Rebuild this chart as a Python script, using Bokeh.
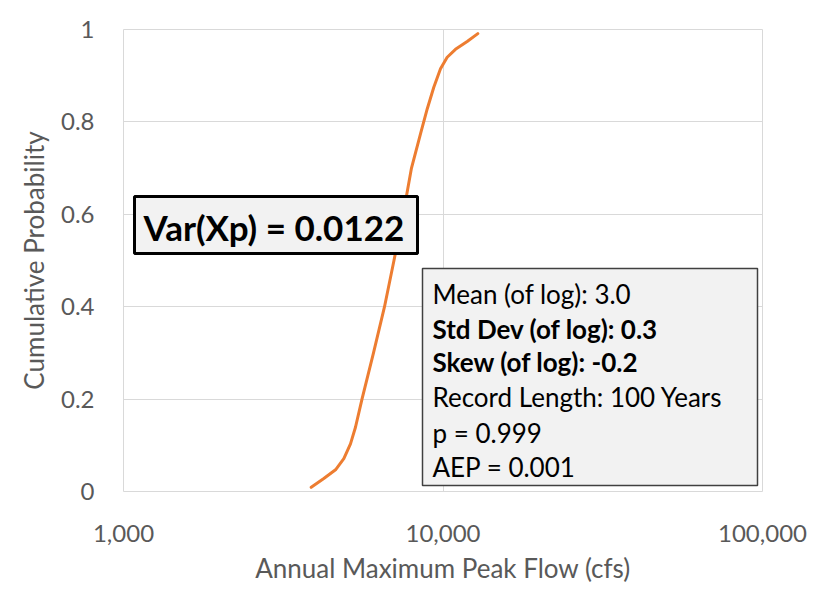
from bokeh.plotting import figure
from bokeh.models import FixedTicker, NumeralTickFormatter, BoxAnnotation, Label
from bokeh.embed import file_html
from bokeh.resources import INLINE

# ---- data ----
flow_cfs = [3868, 4236, 4609, 4893, 5134, 5322, 5578, 6060, 6561, 7023, 7506, 7968, 8503, 8924,
            9358, 9822, 10306, 10941, 11902, 12853]
cum_prob = [0.009, 0.028, 0.047, 0.071, 0.103, 0.139, 0.2, 0.3, 0.4, 0.5, 0.6, 0.7, 0.774, 0.828,
            0.875, 0.915, 0.94, 0.957, 0.974, 0.991]

x_ticks = [1000, 10000, 100000]
y_ticks = [0, 0.2, 0.4, 0.6, 0.8, 1.0]
y_tick_labels = ["0", "0.2", "0.4", "0.6", "0.8", "1"]

var_text = "Var(Xp) = 0.0122"
info_lines = ["Mean (of log): 3.0", "Std Dev (of log): 0.3", "Skew (of log): -0.2",
              "Record Length: 100 Years", "p = 0.999", "AEP = 0.001"]
info_bold = [False, True, True, False, False, False]

FONT = "Lato"
GREY = "#595959"

p = figure(width=812, height=590, x_axis_type="log", x_range=(1000, 100000), y_range=(0, 1),
           output_backend="svg", toolbar_location=None,
           min_border_left=123, min_border_right=50, min_border_top=29, min_border_bottom=99)

p.outline_line_color = "#D9D9D9"
p.outline_line_width = 1
p.background_fill_color = "white"
p.border_fill_color = "white"

# axes
p.xaxis.ticker = FixedTicker(ticks=x_ticks)
p.xaxis.formatter = NumeralTickFormatter(format="0,0")
p.yaxis.ticker = FixedTicker(ticks=y_ticks)
p.yaxis.major_label_overrides = {t: l for t, l in zip(y_ticks, y_tick_labels)}
for ax in (p.xaxis[0], p.yaxis[0]):
    ax.axis_line_color = None
    ax.major_tick_line_color = None
    ax.minor_tick_line_color = None
    ax.major_label_text_font = FONT
    ax.major_label_text_font_size = "24px"
    ax.major_label_text_color = GREY
    ax.axis_label_text_font = FONT
    ax.axis_label_text_font_size = "26px"
    ax.axis_label_text_color = GREY
    ax.axis_label_text_font_style = "normal"
p.xaxis.axis_label = "Annual Maximum Peak Flow (cfs)"
p.yaxis.axis_label = "Cumulative Probability"
p.xaxis.major_label_standoff = 27
p.xaxis.axis_label_standoff = 7
p.yaxis.major_label_standoff = 23
p.yaxis.axis_label_standoff = 8

p.xgrid.ticker = FixedTicker(ticks=x_ticks)
p.ygrid.ticker = FixedTicker(ticks=y_ticks)
p.xgrid.grid_line_color = "#D9D9D9"
p.ygrid.grid_line_color = "#D9D9D9"

p.line(flow_cfs, cum_prob, line_color="#ED7D31", line_width=3, line_join="round", line_cap="round")

# helpers: page pixel -> data position (layout placement of annotations)
def px_x(px):
    return 10 ** (3 + (px - 123) / 319.5)

def px_y(py):
    return (491 - py) / 462.0

p.add_layout(BoxAnnotation(left=px_x(134), right=px_x(417), top=px_y(196), bottom=px_y(253),
                           fill_color="#F2F2F2", fill_alpha=1, line_color="black", line_width=3,
                           line_alpha=1))
p.add_layout(Label(x=px_x(143), y=px_y(226), text=var_text, text_baseline="middle",
                   text_font=FONT, text_font_style="bold", text_font_size="35px", text_color="black"))

p.add_layout(BoxAnnotation(left=px_x(422), right=px_x(757), top=px_y(268), bottom=px_y(485),
                           fill_color="#F2F2F2", fill_alpha=1, line_color="#404040", line_width=1.5,
                           line_alpha=1))
line_y = [293, 328, 361, 396, 432, 466]
for txt, b, ly in zip(info_lines, info_bold, line_y):
    p.add_layout(Label(x=px_x(432), y=px_y(ly), text=txt, text_baseline="middle",
                       text_font=FONT, text_font_style="bold" if b else "normal",
                       text_font_size="26px", text_color="black"))

open("out.html", "w").write(file_html(p, INLINE))
